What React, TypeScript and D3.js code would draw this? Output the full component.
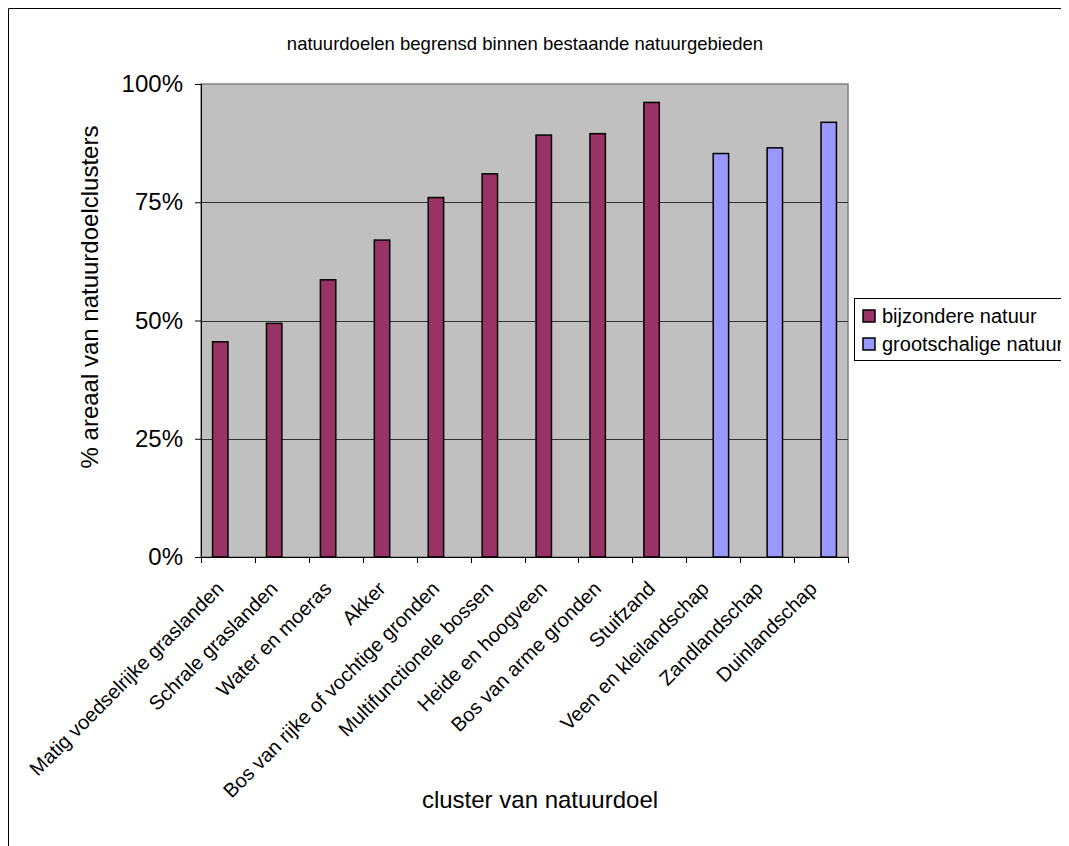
import React, { useEffect, useRef } from 'react';
import * as d3 from 'd3';

const categories: string[] = [
  'Matig voedselrijke graslanden',
  'Schrale graslanden',
  'Water en moeras',
  'Akker',
  'Bos van rijke of vochtige gronden',
  'Multifunctionele bossen',
  'Heide en hoogveen',
  'Bos van arme gronden',
  'Stuifzand',
  'Veen en kleilandschap',
  'Zandlandschap',
  'Duinlandschap',
];

const bijzondere: (number | null)[] = [45.5, 49.4, 58.6, 67, 76, 81, 89.2, 89.5, 96.1, null, null, null];
const grootschalig: (number | null)[] = [null, null, null, null, null, null, null, null, null, 85.3, 86.5, 91.9];

const seriesNames = ['bijzondere natuur', 'grootschalige natuur'];
const seriesColors = ['#993366', '#9999ff'];
const yTicks = [0, 25, 50, 75, 100];

const font = '"Liberation Sans", Arial, sans-serif';

export default function App() {
  const ref = useRef<SVGSVGElement>(null);

  const width = 1150;
  const height = 900;
  const plot = { left: 193, top: 76, right: 840, bottom: 549 };

  useEffect(() => {
    document.body.style.overflow = 'hidden';
    draw();
  // eslint-disable-next-line react-hooks/exhaustive-deps
  }, []);

  function draw() {
    const svg = d3.select(ref.current);
    svg.selectAll('*').remove();

    const x = d3.scaleBand()
      .domain(categories)
      .range([plot.left, plot.right])
      .padding(0);

    const y = d3.scaleLinear()
      .domain([0, 100])
      .range([plot.bottom, plot.top]);

    const barW = x.bandwidth() / 3.5;

    // outer chart border (only left and top are in view)
    svg.append('path')
      .attr('d', `M0.5,${height} V0.5 H${width}`)
      .attr('fill', 'none')
      .attr('stroke', '#000');

    svg.append('rect')
      .attr('x', plot.left)
      .attr('y', plot.top)
      .attr('width', plot.right - plot.left)
      .attr('height', plot.bottom - plot.top)
      .attr('fill', '#c0c0c0')
      .attr('stroke', '#808080')
      .attr('stroke-width', 1.5);

    svg.append('g')
      .selectAll('line')
      .data(yTicks.filter((d) => d > 0 && d < 100))
      .enter()
      .append('line')
      .attr('x1', plot.left)
      .attr('x2', plot.right)
      .attr('y1', (d) => Math.round(y(d)) + 0.5)
      .attr('y2', (d) => Math.round(y(d)) + 0.5)
      .attr('stroke', '#333');

    const series = [bijzondere, grootschalig];
    series.forEach((vals, si) => {
      svg.append('g')
        .selectAll('rect')
        .data(vals.map((v, i) => ({ v, c: categories[i] })).filter((d) => d.v !== null))
        .enter()
        .append('rect')
        .attr('x', (d) => x(d.c)! + x.bandwidth() / 2 - barW + si * barW)
        .attr('y', (d) => y(d.v as number))
        .attr('width', barW)
        .attr('height', (d) => plot.bottom - y(d.v as number))
        .attr('fill', seriesColors[si])
        .attr('stroke', '#000')
        .attr('stroke-width', 1.5);
    });

    // y axis
    const yAxis = svg.append('g')
      .attr('transform', `translate(${plot.left}, 0)`)
      .call(d3.axisLeft(y).tickValues(yTicks).tickSize(6).tickPadding(12).tickFormat((d) => `${d}%`));
    yAxis.select('.domain').attr('stroke', '#000').attr('d', `M0.5,${plot.top}V${plot.bottom}`);
    yAxis.selectAll('.tick line').attr('stroke', '#000');
    yAxis.selectAll('.tick text')
      .attr('font-family', font)
      .attr('font-size', 24)
      .attr('fill', '#000');

    // x axis
    const xAxis = svg.append('g')
      .attr('transform', `translate(0, ${plot.bottom})`)
      .call(d3.axisBottom(x).tickSize(0).tickFormat(() => ''));
    xAxis.select('.domain').attr('stroke', '#000').attr('d', `M${plot.left - 6},0.5H${plot.right}`);

    svg.append('g')
      .selectAll('line')
      .data(categories.concat(['']))
      .enter()
      .append('line')
      .attr('x1', (d, i) => Math.round(plot.left + i * x.bandwidth()) + 0.5)
      .attr('x2', (d, i) => Math.round(plot.left + i * x.bandwidth()) + 0.5)
      .attr('y1', plot.bottom)
      .attr('y2', plot.bottom + 6)
      .attr('stroke', '#000');

    svg.append('g')
      .selectAll('text')
      .data(categories)
      .enter()
      .append('text')
      .attr('transform', (d) => `translate(${x(d)! + x.bandwidth() / 2 - 3}, ${plot.bottom + 33}) rotate(-45)`)
      .attr('text-anchor', 'end')
      .attr('font-family', font)
      .attr('font-size', 20)
      .text((d) => d);

    // titles
    svg.append('text')
      .attr('x', 517)
      .attr('y', 42)
      .attr('text-anchor', 'middle')
      .attr('font-family', font)
      .attr('font-size', 18.5)
      .text('natuurdoelen begrensd binnen bestaande natuurgebieden');

    svg.append('text')
      .attr('transform', 'translate(90, 289) rotate(-90)')
      .attr('text-anchor', 'middle')
      .attr('font-family', font)
      .attr('font-size', 24)
      .text('% areaal van natuurdoelclusters');

    svg.append('text')
      .attr('x', 532)
      .attr('y', 800)
      .attr('text-anchor', 'middle')
      .attr('font-family', font)
      .attr('font-size', 24)
      .text('cluster van natuurdoel');

    // legend
    const legend = svg.append('g').attr('transform', 'translate(846, 290)');
    legend.append('rect')
      .attr('x', 0.5)
      .attr('y', 0.5)
      .attr('width', 300)
      .attr('height', 62)
      .attr('fill', '#fff')
      .attr('stroke', '#000');

    seriesNames.forEach((name, i) => {
      const row = legend.append('g').attr('transform', `translate(9, ${18 + i * 28})`);
      row.append('rect')
        .attr('x', 0)
        .attr('y', -6)
        .attr('width', 12)
        .attr('height', 12)
        .attr('fill', seriesColors[i])
        .attr('stroke', '#000')
        .attr('stroke-width', 1.5);
      row.append('text')
        .attr('x', 19)
        .attr('y', 7)
        .attr('font-family', font)
        .attr('font-size', 20)
        .text(name);
    });
  }

  return (
    <div style={{ width: 1100, height: 900, overflow: 'hidden' }}>
      <svg ref={ref} width={width} height={height} style={{ display: 'block' }} />
    </div>
  );
}
